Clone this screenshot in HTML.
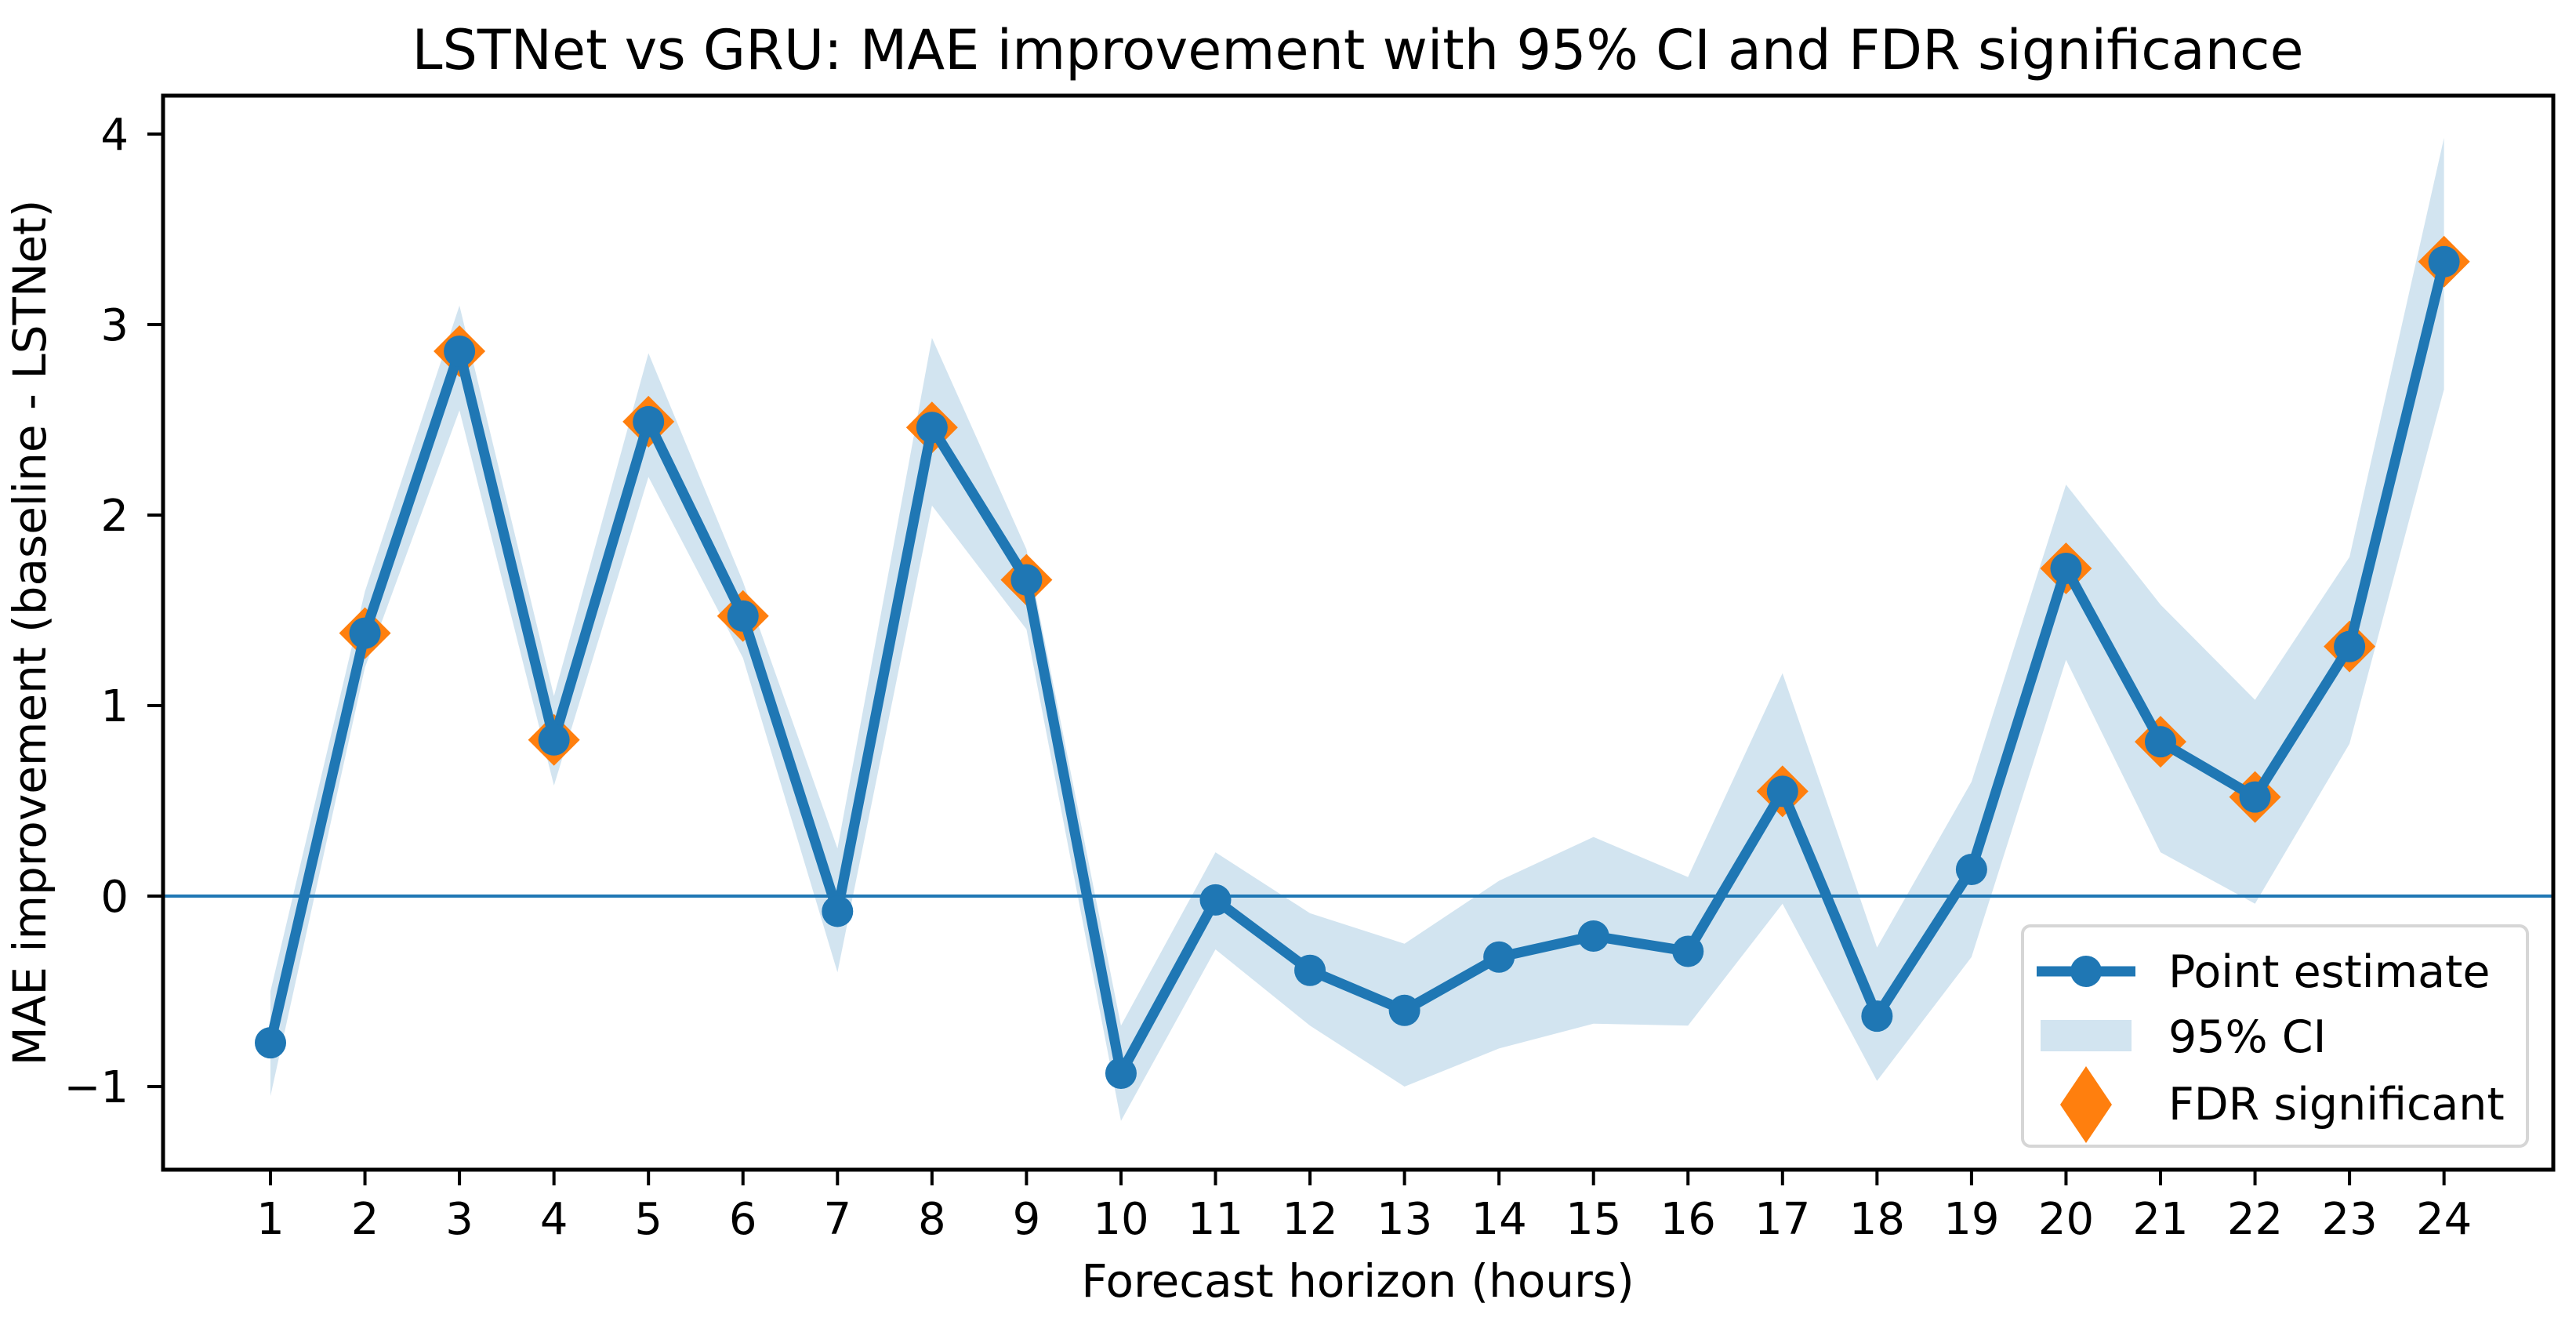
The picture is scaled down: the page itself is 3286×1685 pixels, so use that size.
<!DOCTYPE html>
<html><head><meta charset="utf-8"><style>
html,body{margin:0;padding:0;background:#fff;}
svg{display:block;font-family:"DejaVu Sans","Liberation Sans",sans-serif;}
</style></head><body>
<svg id="chart" width="3286" height="1685" viewBox="0 0 3286 1685" xmlns="http://www.w3.org/2000/svg">
<rect width="3286" height="1685" fill="#fff"/>
<g id="plot"></g>
<text x="1732" y="88" font-size="70" text-anchor="middle">LSTNet vs GRU: MAE improvement with 95% CI and FDR significance</text>
<text x="1732" y="1654" font-size="58" text-anchor="middle">Forecast horizon (hours)</text>
<text transform="translate(58,807) rotate(-90)" font-size="58" text-anchor="middle">MAE improvement (baseline - LSTNet)</text>
</svg>
<script>
const horizons = [1,2,3,4,5,6,7,8,9,10,11,12,13,14,15,16,17,18,19,20,21,22,23,24];
const estimates = [-0.77,1.38,2.86,0.82,2.49,1.47,-0.08,2.46,1.66,-0.93,-0.02,-0.39,-0.60,-0.32,-0.21,-0.29,0.55,-0.63,0.14,1.72,0.81,0.52,1.31,3.33];
const ciLower = [-1.05,1.2,2.55,0.58,2.2,1.25,-0.4,2.05,1.4,-1.18,-0.28,-0.68,-1.0,-0.8,-0.67,-0.68,-0.04,-0.97,-0.32,1.24,0.23,-0.04,0.8,2.66];
const ciUpper = [-0.5,1.6,3.1,1.05,2.85,1.65,0.25,2.93,1.82,-0.68,0.23,-0.09,-0.25,0.08,0.31,0.1,1.17,-0.27,0.6,2.16,1.53,1.03,1.78,3.98];
const significant = [2,3,4,5,6,8,9,17,20,21,22,23,24];
const yTicks = [-1,0,1,2,3,4];
const yTickLabels = ["\u22121","0","1","2","3","4"];

const NS = "http://www.w3.org/2000/svg";
const L=208, R=3257, T=122, B=1492;
const xs = h => 345 + (h-1)*120.55;
const ys = v => 1143 - v*243;
const g = document.getElementById('plot');
function mk(tag, attrs){const e=document.createElementNS(NS,tag);for(const k in attrs)e.setAttribute(k,attrs[k]);g.appendChild(e);return e;}

let pts = horizons.map((h,i)=>xs(h)+','+ys(ciUpper[i]));
pts = pts.concat(horizons.map((h,i)=>xs(h)+','+ys(ciLower[i])).reverse());
const band = mk('polygon',{points:pts.join(' '),fill:'#1f77b4','fill-opacity':'0.2'});



const zl = mk('line',{x1:L,x2:R,y1:ys(0),y2:ys(0),stroke:'#1f77b4','stroke-width':4});



significant.forEach(h=>{
  const i=horizons.indexOf(h), cx=xs(h), cy=ys(estimates[i]), r=33;
  const d = mk('polygon',{points:`${cx},${cy-r} ${cx+r},${cy} ${cx},${cy+r} ${cx-r},${cy}`,fill:'#ff7f0e'});
  
  
});

const ln = mk('polyline',{points:horizons.map((h,i)=>xs(h)+','+ys(estimates[i])).join(' '),fill:'none',stroke:'#1f77b4','stroke-width':13,'stroke-linejoin':'round'});


horizons.forEach((h,i)=>{
  const c = mk('circle',{cx:xs(h),cy:ys(estimates[i]),r:20,fill:'#1f77b4'});
  
  
});

const fr = mk('rect',{x:L,y:T,width:R-L,height:B-T,fill:'none',stroke:'#000','stroke-width':5});



horizons.forEach(h=>{
  const t = mk('line',{x1:xs(h),x2:xs(h),y1:B,y2:B+20,stroke:'#000','stroke-width':4});
  
  
  const tx = mk('text',{x:xs(h),y:B+82,'font-size':56,'text-anchor':'middle'});
  tx.textContent = String(h);
  
  
});
yTicks.forEach((v,i)=>{
  const t = mk('line',{x1:L-20,x2:L,y1:ys(v),y2:ys(v),stroke:'#000','stroke-width':4});
  
  
  const tx = mk('text',{x:164,y:ys(v)+20,'font-size':56,'text-anchor':'end'});
  tx.textContent = yTickLabels[i];
  
  
});

const lg = mk('rect',{x:2580,y:1181,width:644,height:281,rx:10,fill:'#fff','fill-opacity':0.8,stroke:'#d6d6d6','stroke-width':4});


const l1 = mk('line',{x1:2598,x2:2724,y1:1239,y2:1239,stroke:'#1f77b4','stroke-width':13});


const l1c = mk('circle',{cx:2661,cy:1239,r:20,fill:'#1f77b4'});


const l2 = mk('rect',{x:2603,y:1301,width:116,height:40,fill:'#1f77b4','fill-opacity':0.2});


const l3 = mk('polygon',{points:'2661,1360 2694,1409 2661,1458 2628,1409',fill:'#ff7f0e'});


[['Point estimate',1259],['95% CI',1342],['FDR significant',1428]].forEach(([s,y])=>{
  const tx = mk('text',{x:2766,y:y,'font-size':57});
  tx.textContent = s;
  
  
});
</script>
</body></html>
